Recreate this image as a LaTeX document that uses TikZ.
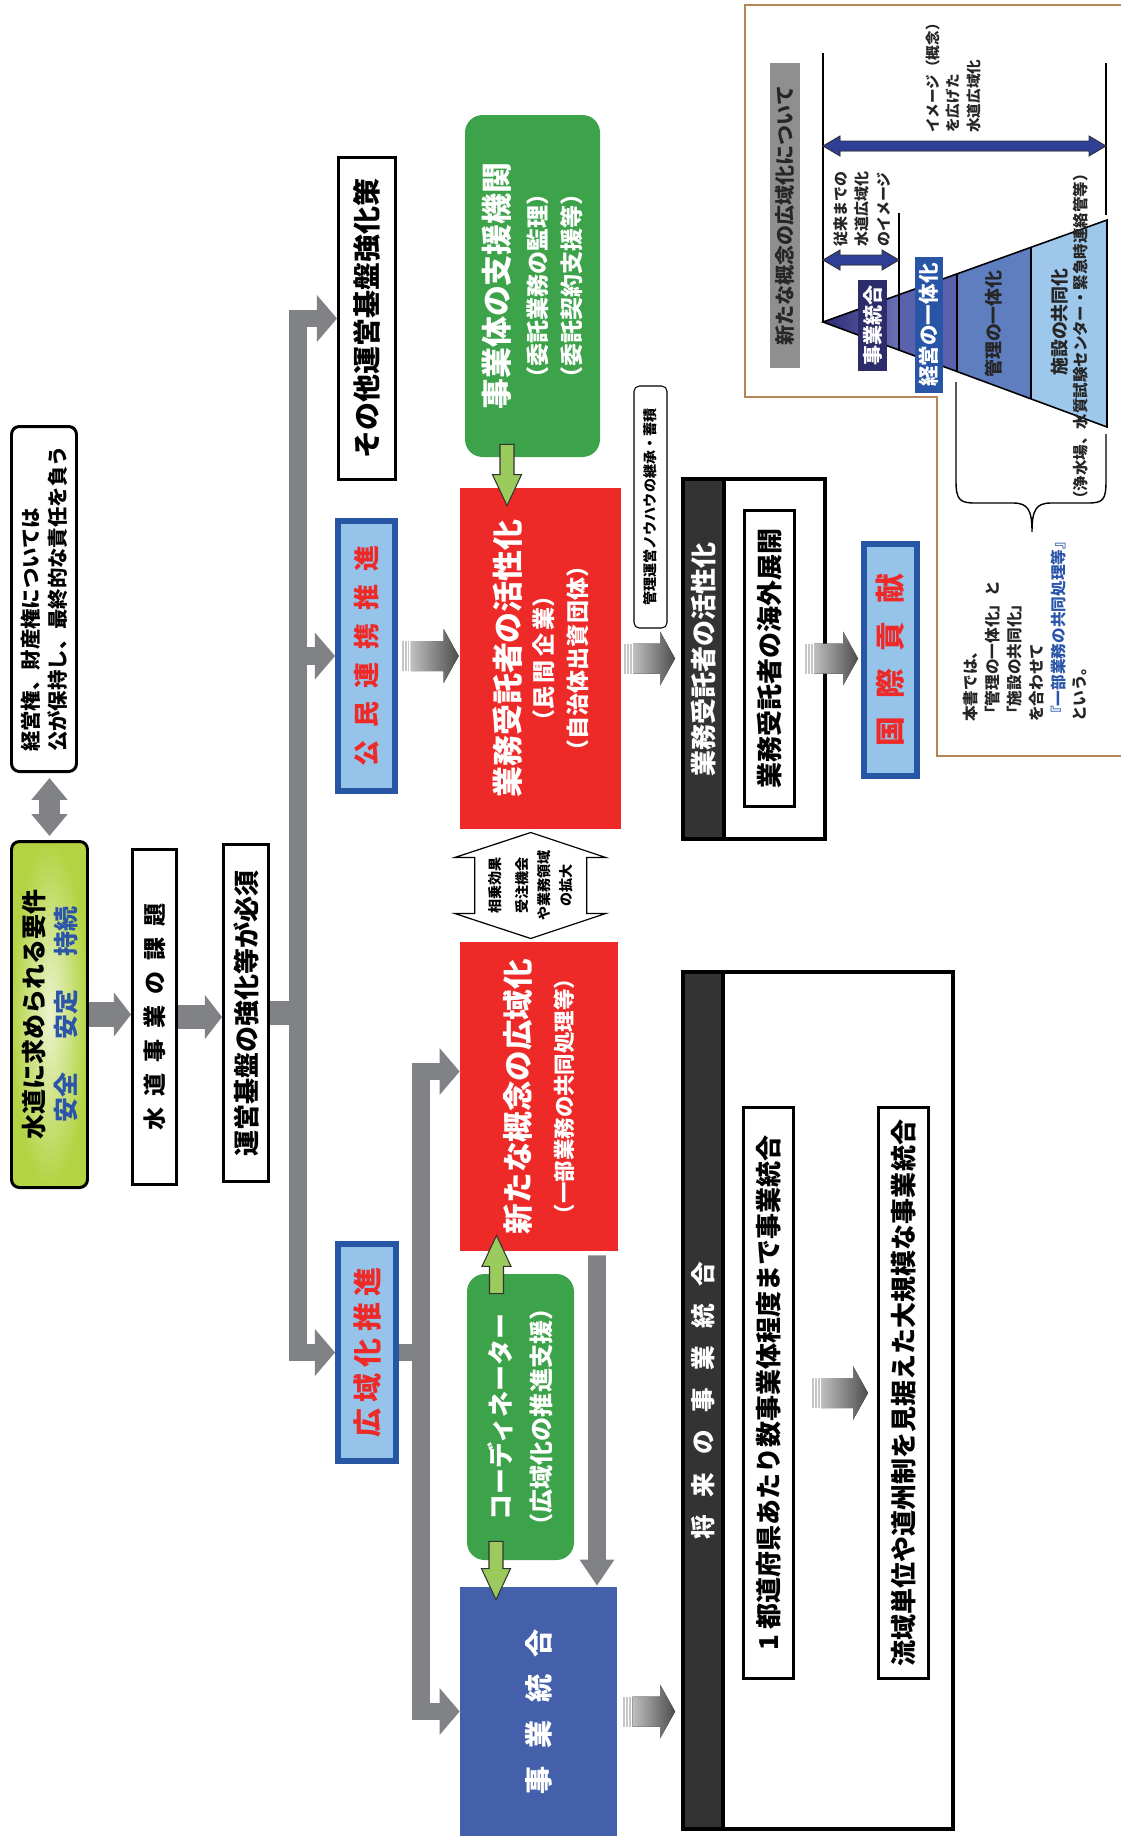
\documentclass[tikz,border=0pt]{standalone}
\usepackage{fontspec}
\setmainfont{Noto Sans CJK JP}[BoldFont={Noto Sans CJK JP Black}]
\usepackage{xcolor}
\usetikzlibrary{arrows.meta,positioning,calc}

\definecolor{boxred}{HTML}{EE2A29}
\definecolor{boxgreen}{HTML}{3DA34A}
\definecolor{lgreen}{HTML}{9BCB5C}
\definecolor{lime}{HTML}{B3D342}
\definecolor{frameblue}{HTML}{2756A5}
\definecolor{paleblue}{HTML}{96C3EA}
\definecolor{unitblue}{HTML}{4560AA}
\definecolor{trunkgray}{HTML}{808285}
\definecolor{darkbar}{HTML}{333333}
\definecolor{framebrown}{HTML}{B5855A}
\definecolor{navy}{HTML}{2D2C6B}
\definecolor{textblue}{HTML}{2A55A8}
\definecolor{mgmtblue}{HTML}{2855A6}
\definecolor{titlegray}{HTML}{8F8F8F}
\definecolor{arrowblue}{HTML}{2F3F95}
\definecolor{trione}{HTML}{2B2A74}
\definecolor{trionel}{HTML}{6B70B5}
\definecolor{tritwo}{HTML}{5A62AE}
\definecolor{trithree}{HTML}{5F7EC0}
\definecolor{trifour}{HTML}{9DC8EC}

\newcommand{\fsz}[2]{\fontsize{#1}{#2}\selectfont\bfseries}

% gray block arrow with striped tail
\newcommand{\grarrow}[2]{%
  \path #1 coordinate (ga) #2 coordinate (gb0);
  \coordinate (gb) at (gb0 |- ga);
  \fill[gray!45] ($(ga)+(0,-15)$) rectangle ($(ga)+(2,15)$);
  \fill[gray!45] ($(ga)+(3,-15)$) rectangle ($(ga)+(5,15)$);
  \fill[gray!45] ($(ga)+(6,-15)$) rectangle ($(ga)+(7.5,15)$);
  \fill[left color=gray!50, right color=black!70] ($(ga)+(9,-15)$) -- ($(gb)+(-15,-15)$) -- ($(gb)+(-15,-27)$) -- (gb) -- ($(gb)+(-15,27)$) -- ($(gb)+(-15,15)$) -- ($(ga)+(9,15)$) -- cycle;
}
% light green block arrow, #3 = 1 down, -1 up
\newcommand{\lgarrow}[3]{%
  \path #1 coordinate (la) #2 coordinate (lb);
  \filldraw[fill=lgreen, draw=black!80, line width=0.6pt] ($(la)+(-7,0)$) -- ($(lb)+(-7,-31*#3)$) -- ($(lb)+(-14.5,-31*#3)$) -- (lb) -- ($(lb)+(14.5,-31*#3)$) -- ($(lb)+(7,-31*#3)$) -- ($(la)+(7,0)$) -- cycle;
}
% blue double arrow
\newcommand{\bluearrow}[2]{%
  \path #1 coordinate (ba) #2 coordinate (bb);
  \filldraw[draw=black!80, line width=0.5pt, left color=arrowblue, middle color=arrowblue!30!white, right color=arrowblue] (ba) -- ($(ba)+(17,-10)$) -- ($(ba)+(17,-5)$) -- ($(bb)+(-17,-5)$) -- ($(bb)+(-17,-10)$) -- (bb) -- ($(bb)+(-17,10)$) -- ($(bb)+(-17,5)$) -- ($(ba)+(17,5)$) -- ($(ba)+(17,10)$) -- cycle;
}

\begin{document}
\begin{tikzpicture}[x=0.02cm, y=-0.02cm,
  every node/.style={inner sep=0pt},
  boxsize/.style 2 args={minimum width=#1*0.02cm, minimum height=#2*0.02cm},
  vbox/.style={rotate=90, align=center},
  plain/.style={vbox, draw, line width=1.7pt, fill=white},
  bluebox/.style={vbox, draw=frameblue, line width=3.4pt, fill=paleblue, text=boxred},
  redbox/.style={vbox, fill=boxred, text=white},
  greenbox/.style={vbox, fill=boxgreen, text=white, rounded corners=10pt},
  trunk/.style={trunkgray, line width=10.2pt, line join=miter},
  trunkarrow/.style={trunk, -{Triangle[width=26pt,length=11.4pt]}},
  flowarrow/.style={trunkgray, line width=14.2pt, -{Triangle[width=24.5pt,length=9.7pt]}}]
  \useasboundingbox (0,0) rectangle (1121,1836);

  % requirements and tasks
  \node[plain, rounded corners=4.5pt, boxsize={345}{65}, align=left, font=\fsz{11.6pt}{15.4pt}] (keiei) at (44,599) {経営権、財産権については\\公が保持し、最終的な責任を負う};
  \node[plain, rounded corners=4.5pt, inner color=lime!25!white, outer color=lime, boxsize={346}{76}, font=\fsz{14.2pt}{18.2pt}] (youken) at (49.5,1014.5) {水道に求められる要件\\\textcolor{textblue}{安全\hspace{19pt}安定\hspace{19pt}持続}};
  \node[plain, boxsize={335}{44}, font=\fsz{13.1pt}{13.1pt}] (kadai) at (154.5,1017) {水\hspace{6.3pt}道\hspace{6.3pt}事\hspace{6.3pt}業\hspace{6.3pt}の\hspace{6.3pt}課\hspace{6.3pt}題};
  \node[plain, boxsize={337}{45}, font=\fsz{14.8pt}{14.8pt}] (unei) at (246,1013) {運営基盤の強化等が必須};
  \draw[trunkgray, line width=12.5pt, {Triangle[width=19.9pt,length=12.5pt]}-{Triangle[width=19.9pt,length=12.5pt]}] ($(keiei.west)+(5.5,5)$) -- ($(youken.east)+(0,-4)$);
  \draw[flowarrow] (youken.south) -- (youken.south -| kadai.north);
  \draw[flowarrow] (kadai.south) -- (kadai.south -| unei.north);

  % measures
  \node[plain, boxsize={322}{57}, font=\fsz{15.9pt}{15.9pt}] (sonota) at (367,318.5) {その他運営基盤強化策};
  \node[bluebox, boxsize={270}{57}, font=\fsz{14.8pt}{14.8pt}] (koumin) at (366.5,656) {公\hspace{7.3pt}民\hspace{7.3pt}連\hspace{7.3pt}携\hspace{7.3pt}推\hspace{7.3pt}進};
  \node[bluebox, boxsize={217}{58}, font=\fsz{16.5pt}{16.5pt}] (kouiki) at (367,1352.5) {広\hspace{3.5pt}域\hspace{3.5pt}化\hspace{3.5pt}推\hspace{3.5pt}進};
  \coordinate (jn1) at (298,1013);
  \draw[trunkgray, line width=14.2pt] (unei.south) -- (jn1);
  \draw[trunkarrow] (jn1) |- (sonota.north);
  \draw[trunkarrow] (jn1) |- (koumin.north);
  \draw[trunkarrow] (jn1) |- (kouiki.north);

  % actors
  \node[greenbox, boxsize={342}{135}, font=\fsz{13.1pt}{19.3pt}] (shien) at (532.5,286) {{\fsz{17.6pt}{19.3pt}事業体の支援機関}\\[2.3pt]（委託業務の監理）\\（委託契約支援等）};
  \node[redbox, boxsize={341}{161}, font=\fsz{13.1pt}{19pt}] (jutaku) at (540.5,658.5) {{\fsz{17.6pt}{19pt}業務受託者の活性化}\\（民\hspace{2pt}間\hspace{2pt}企\hspace{2pt}業）\\（自治体出資団体）};
  \node[redbox, boxsize={309}{158}, font=\fsz{12.2pt}{25pt}] (shinkouiki) at (539,1096.5) {{\fsz{17.4pt}{25pt}新たな概念の広域化}\\（一部業務の共同処理等）};
  \node[greenbox, boxsize={286}{107}, font=\fsz{13.7pt}{22.8pt}] (coord) at (520.5,1417) {{\fsz{14.8pt}{22.8pt}コーディネーター}\\（広域化の推進支援）};
  \node[vbox, fill=unitblue, text=white, boxsize={249}{157}, font=\fsz{16pt}{16pt}] (jigyou) at (538.5,1711.5) {事\hspace{10pt}業\hspace{10pt}統\hspace{10pt}合};
  \coordinate (jn2) at (421,1352.5);
  \draw[trunk] (kouiki.south) -- (jn2);
  \draw[trunkarrow] (jn2) |- ($(shinkouiki.north)+(0,-25)$);
  \draw[trunkarrow] (jn2) |- (jigyou.north);
  \draw[trunkgray, line width=10.2pt, -{Triangle[width=18.8pt,length=14.8pt]}] ($(shinkouiki.west)+(58,4)$) -- ($(jigyou.east)+(58.5,-1)$);
  \lgarrow{($(shien.west)+(-25.5,-13)$)}{($(jutaku.east)+(-33.5,18)$)}{1}
  \lgarrow{($(coord.east)+(-24,20)$)}{($(shinkouiki.west)+(-42.5,-16)$)}{-1}
  \lgarrow{($(coord.west)+(-24.5,-19)$)}{($(jigyou.east)+(-42.5,13)$)}{1}
  \grarrow{($(koumin.south)+(4,0)$)}{($(jutaku.north)+(-1,0)$)}

  % synergy
  \coordinate (syn) at ($(jutaku.west)!0.5!(shinkouiki.east)+(-9,0)$);
  \draw[fill=white, line width=0.7pt, shift={(syn)}] (0,-53) -- (75,-28) -- (56,-28) -- (56,28) -- (75,28) -- (0,53) -- (-76,28) -- (-56,28) -- (-56,-28) -- (-76,-28) -- cycle;
  \node[vbox, font=\fsz{8pt}{12.5pt}] (synergy) at (syn) {相乗効果\\[3pt]受注機会\\や業務領域\\の拡大};

  % private operators
  \node[vbox, draw, rounded corners=3pt, line width=0.6pt, fill=white, boxsize={242}{33}, font=\fsz{8pt}{8pt}] (know) at (650.5,507) {管理運営ノウハウの継承・蓄積};
  \node[plain, line width=2.2pt, boxsize={360}{141}] (katsu) at (754.5,659) {};
  \node[vbox, draw, line width=2.2pt, fill=darkbar, text=white, boxsize={360}{41}, font=\fsz{14.8pt}{14.8pt}] (katsuhead) at (703.5,659) {業務受託者の活性化};
  \node[plain, boxsize={296}{50}, font=\fsz{14.8pt}{14.8pt}] (kaigai) at (769.5,658.5) {業務受託者の海外展開};
  \node[bluebox, boxsize={232}{53}, font=\fsz{17pt}{17pt}] (kokusai) at (890.5,660) {国\hspace{10pt}際\hspace{10pt}貢\hspace{10pt}献};
  \grarrow{($(jutaku.south)+(3,0)$)}{($(katsu.north)+(-7,0)$)}
  \grarrow{($(kaigai.south)+(9,0)$)}{($(kokusai.north)+(-3,0)$)}

  % future integration
  \node[plain, line width=2.2pt, boxsize={857}{268}] (shourai) at (819,1400.5) {};
  \node[vbox, draw, line width=2.2pt, fill=darkbar, text=white, boxsize={857}{40}, font=\fsz{14pt}{14pt}] (shouraihead) at (703,1400.5) {将\hspace{10pt}来\hspace{10pt}の\hspace{10pt}事\hspace{10pt}業\hspace{10pt}統\hspace{10pt}合};
  \node[plain, boxsize={571}{50}, font=\fsz{14.8pt}{14.8pt}] (step1) at (768.5,1393) {1 都道府県あたり数事業体程度まで事業統合};
  \node[plain, boxsize={571}{50}, font=\fsz{14.8pt}{14.8pt}] (step2) at (903.5,1393) {流域単位や道州制を見据えた大規模な事業統合};
  \grarrow{($(jigyou.south)+(6,0)$)}{($(shourai.north)+(-8,0)$)}
  \grarrow{($(step1.south)+(17,0)$)}{($(step2.north)+(-9,0)$)}

  % new concept of regionalization
  \draw[framebrown, line width=1.2pt] (1121,5) -- (745,5) -- (745,397) -- (937,397) -- (937,756) -- (1121,756);
  \node[vbox, fill=titlegray, text=black!85, boxsize={305}{30}, font=\fsz{11.4pt}{11.4pt}] (concept) at (785,215.5) {新たな概念の広域化について};
  \draw[line width=0.8pt] (823,53) -- (823,322);
  \draw[line width=0.8pt] (1106,63) -- (1106,215);
  \draw[line width=0.8pt] (899,213) -- (899,295);
  \bluearrow{(823,146)}{(1106,146)}
  \bluearrow{(823,260)}{(899,260)}
  \fill[left color=trione, right color=trionel] (823,322) -- (899,294.7) -- (899,350.1) -- cycle;
  \fill[tritwo] (899,294.7) -- (957,273.9) -- (957,371.5) -- (899,350.1) -- cycle;
  \fill[trithree] (957,273.9) -- (1031,247.3) -- (1031,398.9) -- (957,371.5) -- cycle;
  \fill[trifour] (1031,247.3) -- (1107,220) -- (1107,427) -- (1031,398.9) -- cycle;
  \draw[line width=0.9pt] (823,322) -- (1107,220) -- (1107,427) -- cycle;
  \draw[line width=0.8pt] (899,294.7) -- (899,350.1);
  \draw[line width=0.8pt] (957,273.9) -- (957,371.5);
  \draw[line width=0.8pt] (1031,247.3) -- (1031,398.9);
  \node[vbox, fill=navy, text=white, boxsize={91}{29}, font=\fsz{11.4pt}{11.4pt}] (lbunify) at (872.5,325.5) {事業統合};
  \node[vbox, fill=mgmtblue, text=white, boxsize={136}{28}, font=\fsz{11.7pt}{11.7pt}] (lbmanage) at (929,325) {経営の一体化};
  \node[vbox, text=black!85, font=\fsz{10.2pt}{10.2pt}] (lbadmin) at (994,324) {管理の一体化};
  \node[vbox, text=black!85, font=\fsz{10.2pt}{10.2pt}] (lbshare) at (1060,322) {施設の共同化};
  \node[vbox, text=black!85, font=\fsz{8.8pt}{8.8pt}] (facility) at (1081,336.5) {（浄水場、水質試験センター・緊急時連絡管等）};
  \node[vbox, anchor=west, align=left, text=black!85, font=\fsz{8.5pt}{12.2pt}] (oldimage) at (862,247) {従来までの\\水道広域化\\のイメージ};
  \node[vbox, anchor=west, align=left, text=black!85, font=\fsz{8.3pt}{11.7pt}] (newimage) at (953,133) {イメージ（概念）\\を広げた\\水道広域化};
  \draw[line width=0.8pt] (956,382) -- (956,481) .. controls (956,500) and (960,503) .. (975,503) -- (1013,503) .. controls (1028,503) and (1032,510) .. (1032,532) .. controls (1032,510) and (1036,503) .. (1051,503) -- (1088,503) .. controls (1103,503) and (1106,500) .. (1106,481) -- (1106,434);
  \node[vbox, anchor=west, align=left, text=black!85, font=\fsz{8.9pt}{12.5pt}] (note) at (1025,722) {本書では、\\「管理の一体化」と\\「施設の共同化」\\を合わせて\\\textcolor{textblue}{『一部業務の共同処理等』}\\という。};
\end{tikzpicture}
\end{document}
